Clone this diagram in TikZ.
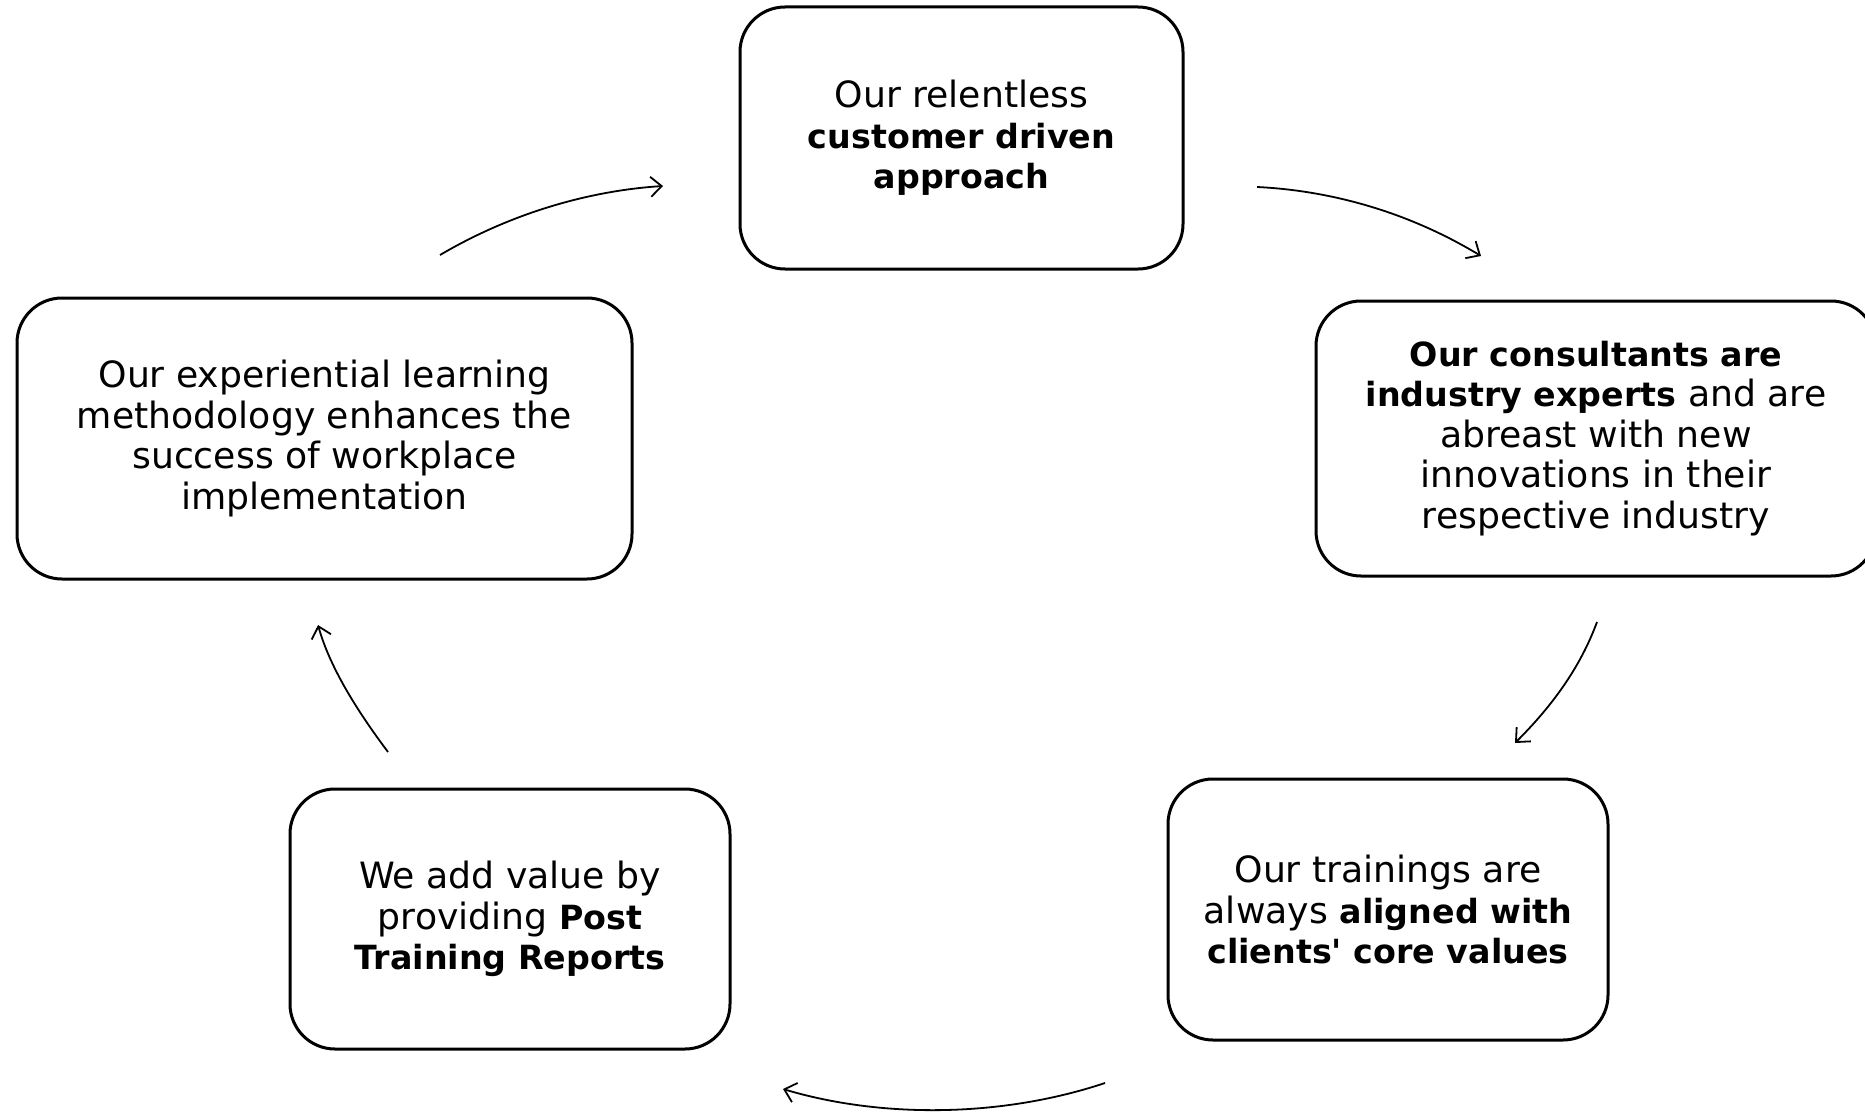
\documentclass[tikz,border=0pt]{standalone}
\usepackage{fontspec}
\setmainfont{DejaVu Sans}[BoldFeatures={Scale=0.92}]
\newfontfamily\aposfont{DejaVu Sans}[BoldFeatures={Scale=0.92}]
\newcommand{\straightapos}{{\aposfont\bfseries '}}
\usetikzlibrary{arrows.meta}
\tikzset{
  box/.style={draw=black, line width=3pt, rounded corners=45pt, align=center,
    font=\fontsize{36.2}{40.5}\selectfont, inner sep=0pt},
  flow/.style={line width=1.8pt, -{Straight Barb[length=11pt,width=20pt,line width=1.8pt]}}
}
\begin{document}
\begin{tikzpicture}[x=1pt,y=-1pt]
\useasboundingbox (0,0) rectangle (1865,1113);
\begin{scope}
\clip (0,0) rectangle (1865,1113);
\node[box, minimum width=443pt, minimum height=262pt] (top) at (961.5,138)
  {Our relentless\\ \textbf{customer driven}\\ \textbf{approach}};
\node[box, minimum width=560pt, minimum height=275pt] (right) at (1596,438.5)
  {\textbf{Our consultants are}\\ \textbf{industry experts} and are\\ abreast with new\\ innovations in their\\ respective industry};
\node[box, minimum width=440pt, minimum height=261pt] (bright) at (1388,909.5)
  {Our trainings are\\ always \textbf{aligned with}\\ \textbf{clients\straightapos{} core values}};
\node[box, minimum width=440pt, minimum height=260pt] (bleft) at (510,919)
  {We add value by\\ providing \textbf{Post}\\ \textbf{Training Reports}};
\node[box, minimum width=615pt, minimum height=281pt] (left) at (324.5,438.5)
  {Our experiential learning\\ methodology enhances the\\ success of workplace\\ implementation};
\end{scope}
\coordinate (a1s) at (440,255);  \coordinate (a1e) at (663,186);
\coordinate (a2s) at (1257,187); \coordinate (a2e) at (1481,256);
\coordinate (a3s) at (1597,622); \coordinate (a3e) at (1515,743);
\coordinate (a4s) at (1105,1083); \coordinate (a4e) at (783,1089);
\coordinate (a5s) at (388,752);  \coordinate (a5e) at (318,625);
\draw[flow] (a1s) .. controls (520,208) and (600,190) .. (a1e);
\draw[flow] (a2s) .. controls (1320,190) and (1400,207) .. (a2e);
\draw[flow] (a3s) .. controls (1580,668) and (1552,706) .. (a3e);
\draw[flow] (a4s) .. controls (1000,1118) and (880,1118) .. (a4e);
\draw[flow] (a5s) .. controls (358,712) and (330,668) .. (a5e);
\end{tikzpicture}
\end{document}
